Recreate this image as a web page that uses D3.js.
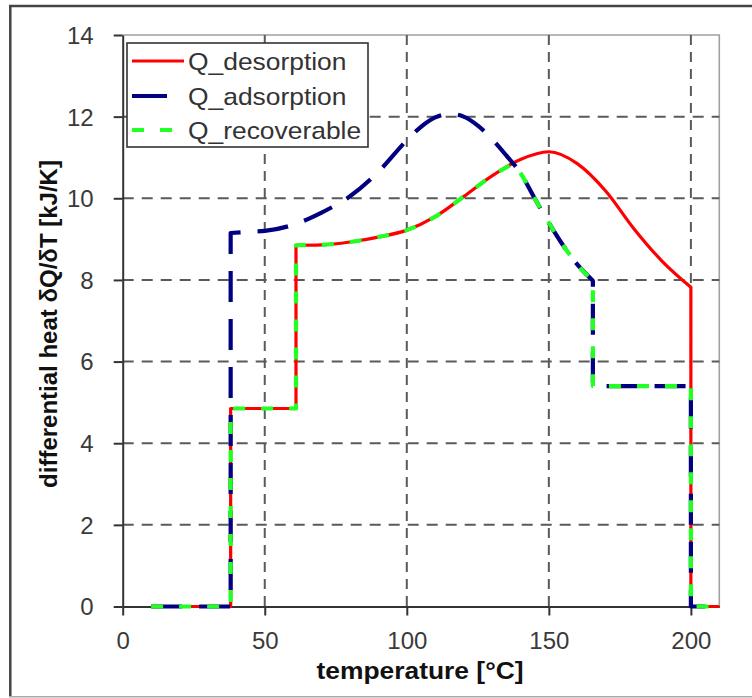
<!DOCTYPE html>
<html>
<head>
<meta charset="utf-8">
<script src="https://cdn.jsdelivr.net/npm/d3@7"></script>
<style>
  html, body { margin: 0; padding: 0; background: #fff; }
  svg { display: block; font-family: "Liberation Sans", Arial, sans-serif; }
</style>
</head>
<body>
<svg id="chart" width="752" height="698"></svg>
<script>
// Differential heat curves versus temperature
const desorptionT = [10, 38, 38, 61, 61, 70, 80, 90, 100, 110, 120, 130, 140, 150, 160, 170, 180, 190, 200, 200, 210];
const desorptionQ = [0, 0, 4.85, 4.85, 8.85, 8.86, 8.93, 9.05, 9.22, 9.55, 10.04, 10.55, 10.95, 11.14, 10.85, 10.18, 9.25, 8.45, 7.82, 0, 0];

const adsorptionT = [10, 38, 38, 45, 50, 60, 70, 80, 90, 100, 105, 110, 115, 120, 125, 130, 135, 140, 145, 150, 155, 160, 165.5, 165.5, 200, 200, 210];
const adsorptionQ = [0, 0, 9.15, 9.18, 9.2, 9.35, 9.65, 10.05, 10.65, 11.42, 11.75, 11.98, 12.07, 12.0, 11.78, 11.45, 11.05, 10.62, 10.0, 9.4, 8.85, 8.38, 7.98, 5.4, 5.4, 0, 0];

const recoverableT = [10, 38, 38, 61, 61, 70, 80, 90, 100, 110, 120, 130, 137.5, 137.5, 140, 145, 150, 155, 160, 165.5, 165.5, 200, 200, 210];
const recoverableQ = [0, 0, 4.85, 4.85, 8.85, 8.86, 8.93, 9.05, 9.22, 9.55, 10.04, 10.55, 10.85, 10.85, 10.62, 10.0, 9.4, 8.85, 8.38, 7.98, 5.4, 5.4, 0, 0];

const seriesNames = ["Q_desorption", "Q_adsorption", "Q_recoverable"];
const xTicks = [0, 50, 100, 150, 200];
const yTicks = [0, 2, 4, 6, 8, 10, 12, 14];
const xLabel = "temperature [°C]";
const yLabel = "differential heat δQ/δT [kJ/K]";

const series = [
  { name: seriesNames[0], t: desorptionT, q: desorptionQ, color: "#ff0000", width: 3.2, dash: null },
  { name: seriesNames[1], t: adsorptionT, q: adsorptionQ, color: "#000080", width: 4.2, dash: "31,17" },
  { name: seriesNames[2], t: recoverableT, q: recoverableQ, color: "#22ff22", width: 4.2, dash: "12,16" }
];

const svg = d3.select("#chart");
const W = 752, H = 698;
const plot = { left: 122.7, right: 719.3, top: 35, bottom: 606.5 };

const x = d3.scaleLinear().domain([0, 210]).range([plot.left, plot.right]);
const y = d3.scaleLinear().domain([0, 14]).range([plot.bottom, plot.top]);

// outer frame
svg.append("line").attr("x1", 9).attr("x2", W).attr("y1", 6).attr("y2", 6)
  .attr("stroke", "#444").attr("stroke-width", 2.5);
svg.append("line").attr("x1", 10.3).attr("x2", 10.3).attr("y1", 5).attr("y2", 697)
  .attr("stroke", "#444").attr("stroke-width", 2.5);
svg.append("line").attr("x1", 9).attr("x2", W).attr("y1", 696.8).attr("y2", 696.8)
  .attr("stroke", "#aaa").attr("stroke-width", 1.5);

// plot border (top and right)
svg.append("path")
  .attr("d", `M${plot.left},${plot.top}H${plot.right}V${plot.bottom}`)
  .attr("fill", "none").attr("stroke", "#a0a0a0").attr("stroke-width", 1.6);

// grid
const grid = svg.append("g").attr("stroke", "#5a5a5a").attr("stroke-width", 2).attr("fill", "none");
xTicks.filter(d => d > 0).forEach(d => {
  grid.append("line").attr("x1", x(d)).attr("x2", x(d)).attr("y1", plot.top).attr("y2", plot.bottom)
    .attr("stroke-dasharray", "10,7");
});
yTicks.filter(d => d > 0 && d < 14).forEach(d => {
  grid.append("line").attr("x1", plot.left).attr("x2", plot.right).attr("y1", y(d)).attr("y2", y(d))
    .attr("stroke-dasharray", "11,8");
});

// axes
const xAxis = d3.axisBottom(x).tickValues(xTicks).tickSize(9).tickSizeOuter(0).tickPadding(16);
const yAxis = d3.axisLeft(y).tickValues(yTicks).tickSize(9).tickSizeOuter(0).tickPadding(20);

const gx = svg.append("g").attr("transform", `translate(0,${plot.bottom})`).call(xAxis);
const gy = svg.append("g").attr("transform", `translate(${plot.left},0)`).call(yAxis);
[gx, gy].forEach(g => {
  g.select(".domain").attr("stroke", "#333").attr("stroke-width", 2);
  g.selectAll(".tick line").attr("stroke", "#333").attr("stroke-width", 2);
  g.selectAll(".tick text").attr("fill", "#3a3a3a").attr("font-size", 24)
    .attr("font-family", "'Liberation Sans', Arial, sans-serif");
});
gy.selectAll(".tick text").attr("dy", "0.35em");
gx.selectAll(".tick text").attr("dy", "0.71em");

// curves: straight vertical steps, smooth monotone pieces between them
const lineGen = d3.line().x(d => x(d[0])).y(d => y(d[1])).curve(d3.curveMonotoneX);
function seriesPath(t, q) {
  const runs = [];
  let run = [];
  t.forEach((tv, i) => {
    if (i > 0 && tv <= t[i - 1]) { runs.push(run); run = []; }
    run.push([tv, q[i]]);
  });
  runs.push(run);
  return runs.map((r, i) => {
    const p = lineGen(r);
    return i === 0 ? p : "L" + p.slice(1);
  }).join("");
}

const curves = svg.append("g").attr("fill", "none");
series.forEach(s => {
  curves.append("path")
    .attr("d", seriesPath(s.t, s.q))
    .attr("stroke", s.color)
    .attr("stroke-width", s.width)
    .attr("stroke-dasharray", s.dash)
    .attr("stroke-linejoin", "round");
});

// legend
const lg = svg.append("g");
lg.append("rect").attr("x", 127).attr("y", 43).attr("width", 241).attr("height", 104)
  .attr("fill", "#fff").attr("stroke", "#333").attr("stroke-width", 1.6);
const rowY = [61, 96, 130];
series.forEach((s, i) => {
  lg.append("line").attr("x1", 132).attr("x2", 184).attr("y1", rowY[i]).attr("y2", rowY[i])
    .attr("stroke", s.color).attr("stroke-width", s.width)
    .attr("stroke-dasharray", i === 1 ? "35,40" : s.dash);
  lg.append("text")
    .attr("transform", `translate(188,${rowY[i] + 8.5}) scale(1.1,1)`)
    .attr("font-size", 24).attr("fill", "#333")
    .text(s.name);
});

// axis titles
svg.append("text")
  .attr("transform", `translate(420,679) scale(1.1,1)`)
  .attr("text-anchor", "middle").attr("font-size", 24).attr("font-weight", "bold").attr("fill", "#111")
  .text(xLabel);
svg.append("text")
  .attr("transform", `translate(57,324) rotate(-90)`)
  .attr("text-anchor", "middle").attr("font-size", 24).attr("font-weight", "bold").attr("fill", "#111")
  .text(yLabel);
</script>
</body>
</html>
